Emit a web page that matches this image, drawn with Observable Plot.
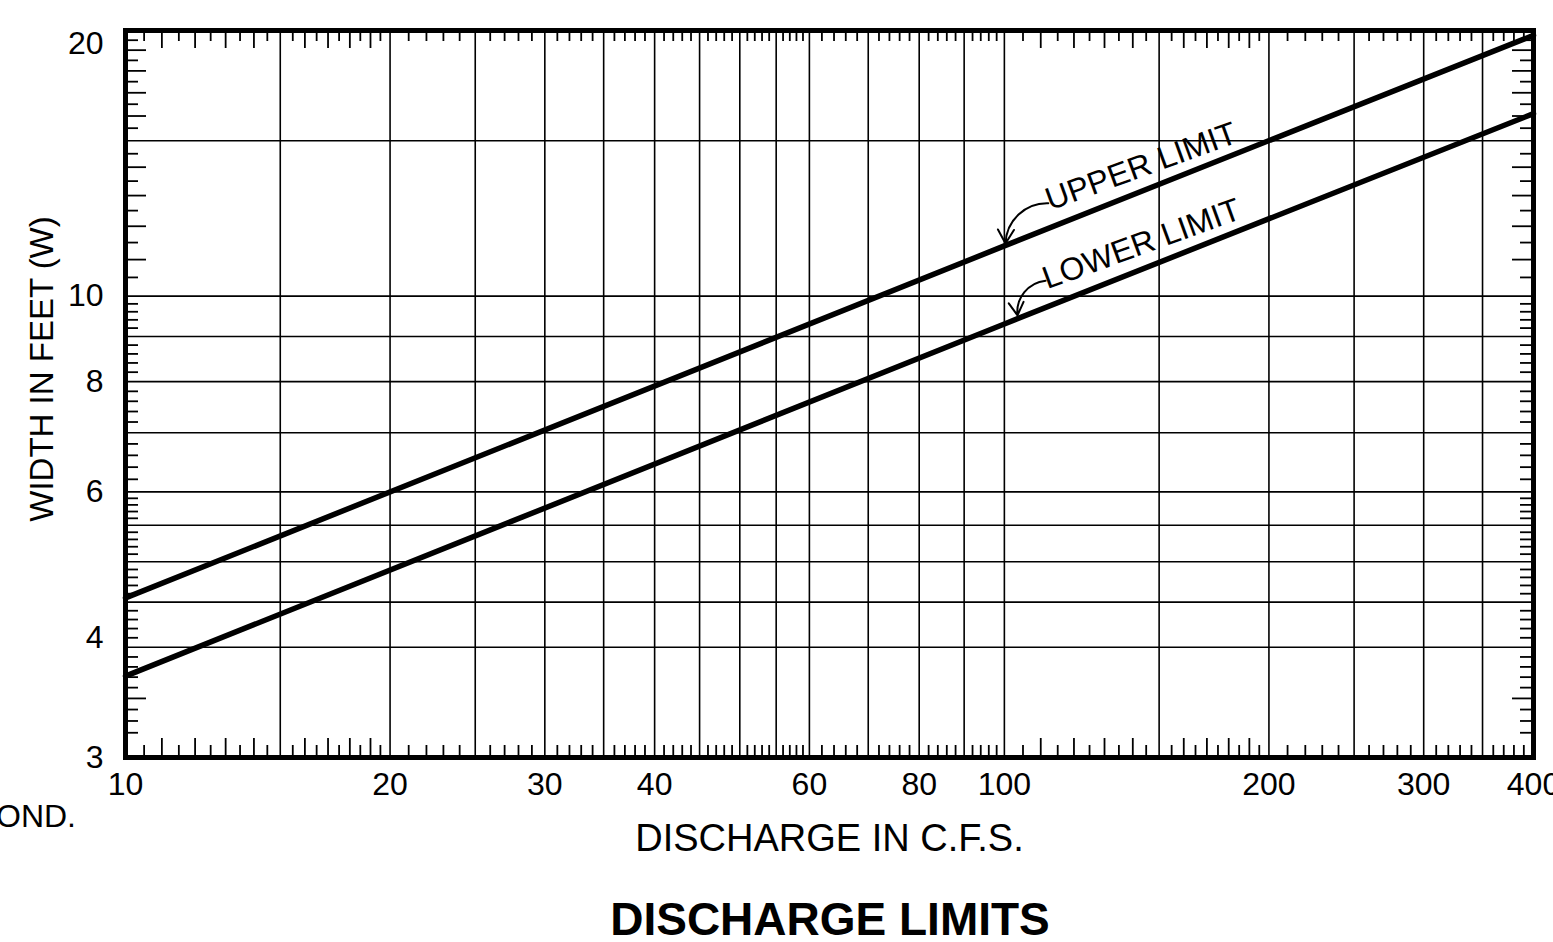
<!DOCTYPE html>
<html><head><meta charset="utf-8">
<script src="https://cdn.jsdelivr.net/npm/d3@7"></script>
<script src="https://cdn.jsdelivr.net/npm/@observablehq/plot@0.6"></script>
<style>
html,body{margin:0;padding:0;background:#fff;overflow:hidden;width:1553px;height:942px;}
#wrap{position:relative;width:1553px;height:942px;font-family:"Liberation Sans",Arial,sans-serif;color:#000;}
#chart{position:absolute;left:0;top:0;}
#title{position:absolute;left:0;top:896px;width:1660px;text-align:center;font-weight:bold;font-size:46px;line-height:46px;white-space:nowrap;}
#cut{position:absolute;left:-4px;top:800px;font-size:32px;line-height:32px;white-space:nowrap;}
</style></head><body>
<div id="wrap"><div id="chart"></div><div id="cut">OND.</div><div id="title">DISCHARGE LIMITS</div></div>
<script>
// ---- data ----
const discharge = [10, 100, 400];            // C.F.S.
const upperLimit = [4.55, 11.4, 19.75];      // width in feet
const lowerLimit = [3.71, 9.3, 16.1];

const xTickLabels = [10, 20, 30, 40, 60, 80, 100, 200, 300, 400];
const yTickLabels = [3, 6, 8, 10];
const yTickLabelsHigh = [20];
const yTickLabelsLow = [4];

const xGrid = [15, 20, 25, 30, 35, 40, 45, 50, 55, 60, 70, 80, 90, 100, 150, 200, 250, 300, 350];
const yGrid = [4, 4.5, 5, 5.5, 6, 7, 8, 9, 10, 15];

const xMinorLong = [11, 12, 13, 14, 16, 17, 18, 19, 110, 120, 130, 140, 160, 170, 180, 190];
const xMinorShort = [10.5, 11.5, 12.5, 13.5, 14.5, 15.5, 16.5, 17.5, 18.5, 19.5,
  21, 22, 23, 24, 26, 27, 28, 29, 31, 32, 33, 34, 36, 37, 38, 39,
  41, 42, 43, 44, 46, 47, 48, 49, 51, 52, 53, 54, 56, 57, 58, 59,
  62, 64, 66, 68, 72, 74, 76, 78, 82, 84, 86, 88, 92, 94, 96, 98,
  105, 115, 125, 135, 145, 155, 165, 175, 185, 195,
  210, 220, 230, 240, 260, 270, 280, 290, 310, 320, 330, 340, 360, 370, 380, 390];

const yMinorLong = [11, 12, 13, 14, 16, 17, 18, 19, 3.5];
const yMinorShort = [10.5, 11.5, 12.5, 13.5, 14.5, 15.5, 16.5, 17.5, 18.5, 19.5,
  3.2, 3.3, 3.4, 3.6, 3.7, 3.8, 3.9,
  4.1, 4.2, 4.3, 4.4, 4.6, 4.7, 4.8, 4.9, 5.1, 5.2, 5.3, 5.4, 5.6, 5.7, 5.8, 5.9,
  6.2, 6.4, 6.6, 6.8, 7.2, 7.4, 7.6, 7.8, 8.2, 8.4, 8.6, 8.8, 9.2, 9.4, 9.6, 9.8];

const labelNames = ["UPPER LIMIT", "LOWER LIMIT"];
const labelQ = [112.8, 111.9];
const labelW = [12.5, 10.18];
const arrowQ1 = [112.2, 111.4], arrowW1 = [12.74, 10.41];
const arrowQ2 = [100.3, 103.5], arrowW2 = [11.47, 9.51];

const xAxisTitle = "DISCHARGE IN C.F.S.";
const yAxisTitle = "WIDTH IN FEET (W)";

// ---- chart ----
const W = 1553, H = 870, mL = 125, mR = 20, mT = 30, mB = 113;
const innerW = W - mL - mR, innerH = H - mT - mB;
const rows = ys => discharge.map((q, i) => ({q, w: ys[i]}));
const labels = labelNames.map((t, i) => ({t, q: labelQ[i], w: labelW[i]}));
const arrows = labelNames.map((t, i) => ({q1: arrowQ1[i], w1: arrowW1[i], q2: arrowQ2[i], w2: arrowW2[i]}));
const ink = "#000";

const chart = Plot.plot({
  width: W, height: H,
  marginLeft: mL, marginRight: mR, marginTop: mT, marginBottom: mB,
  style: {fontFamily: "'Liberation Sans', Arial, sans-serif", color: ink, background: "#fff", overflow: "visible"},
  x: {type: "log", domain: [10, 400]},
  y: {type: "log", domain: [3, 20]},
  marks: [
    Plot.ruleX(xGrid, {stroke: ink, strokeWidth: 1.6}),
    Plot.ruleY(yGrid, {stroke: ink, strokeWidth: 1.6}),
    // inward minor ticks, bottom & top
    Plot.tickX(xMinorShort, {stroke: ink, strokeWidth: 1.8, insetTop: innerH - 12}),
    Plot.tickX(xMinorLong, {stroke: ink, strokeWidth: 1.8, insetTop: innerH - 19}),
    Plot.tickX(xMinorShort, {stroke: ink, strokeWidth: 1.8, insetBottom: innerH - 11}),
    Plot.tickX(xMinorLong, {stroke: ink, strokeWidth: 1.8, insetBottom: innerH - 18}),
    // inward minor ticks, left & right
    Plot.tickY(yMinorShort, {stroke: ink, strokeWidth: 1.8, insetRight: innerW - 13}),
    Plot.tickY(yMinorLong, {stroke: ink, strokeWidth: 1.8, insetRight: innerW - 21}),
    Plot.tickY(yMinorShort, {stroke: ink, strokeWidth: 1.8, insetLeft: innerW - 13}),
    Plot.tickY(yMinorLong, {stroke: ink, strokeWidth: 1.8, insetLeft: innerW - 21}),
    // limit lines
    Plot.line(rows(upperLimit), {x: "q", y: "w", stroke: ink, strokeWidth: 5.5}),
    Plot.line(rows(lowerLimit), {x: "q", y: "w", stroke: ink, strokeWidth: 5.5}),
    Plot.frame({stroke: ink, strokeWidth: 5}),
    // annotations
    Plot.text(labels, {x: "q", y: "w", text: "t", rotate: -20, textAnchor: "start", lineAnchor: "bottom", fontSize: 32, fill: ink}),
    Plot.arrow(arrows, {x1: "q1", y1: "w1", x2: "q2", y2: "w2", bend: -45, stroke: ink, strokeWidth: 2, headLength: 12}),
    // tick labels
    Plot.axisX(xTickLabels, {tickSize: 0, tickPadding: 15, fontSize: 32, tickFormat: d => String(d), label: null}),
    Plot.axisY(yTickLabels, {tickSize: 0, tickPadding: 22, fontSize: 32, tickFormat: d => String(d), label: null}),
    Plot.axisY(yTickLabelsHigh, {tickSize: 0, tickPadding: 22, fontSize: 32, dy: 13, tickFormat: d => String(d), label: null}),
    Plot.axisY(yTickLabelsLow, {tickSize: 0, tickPadding: 22, fontSize: 32, dy: -10, tickFormat: d => String(d), label: null}),
    // axis titles
    Plot.text([xAxisTitle], {frameAnchor: "bottom", text: d => d, lineAnchor: "bottom", dy: 93, fontSize: 38, fill: ink}),
    Plot.text([yAxisTitle], {frameAnchor: "left", text: d => d, textAnchor: "middle", rotate: -90, dx: -83, dy: -25, fontSize: 33, fill: ink})
  ]
});
document.getElementById("chart").appendChild(chart);
</script>
</body></html>
